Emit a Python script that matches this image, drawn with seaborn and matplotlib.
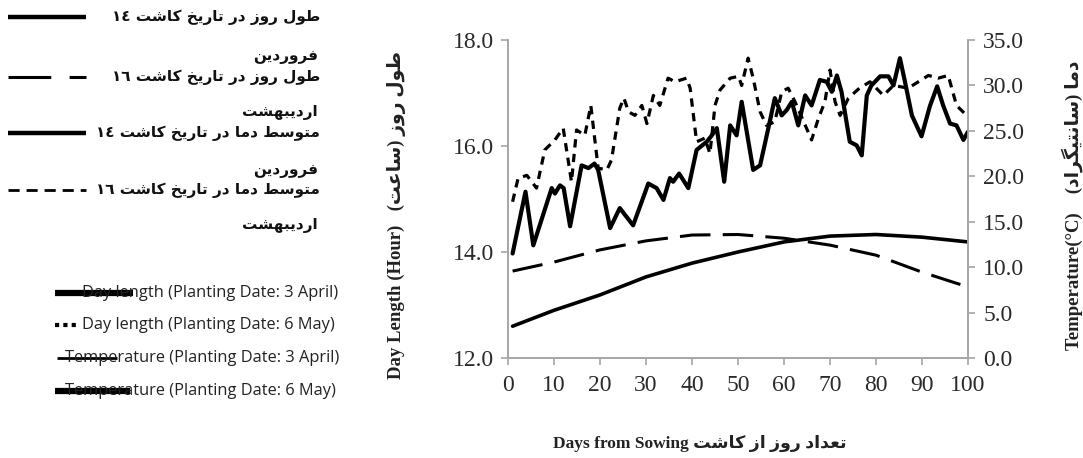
import matplotlib
matplotlib.use("Agg")
import matplotlib.pyplot as plt
from matplotlib.lines import Line2D
import seaborn as sns
import pandas as pd
import re

# day length, read every 10 days
dl_days = [1, 10, 20, 30, 40, 50, 60, 70, 80, 90, 100]
dl_april = [12.6, 12.9, 13.19, 13.53, 13.79, 14.0, 14.19, 14.3, 14.33, 14.28, 14.19]
dl_may = [13.64, 13.81, 14.04, 14.21, 14.32, 14.33, 14.26, 14.13, 13.94, 13.62, 13.34]

# mean temperature, planting date 3 April (peaks and troughs)
t_april_days = [1, 3.8, 5.5, 9.5, 10.2, 11.3, 12.1, 13.5, 16.0, 17.5, 18.8, 19.6, 22.2, 24.3,
                27.2, 30.5, 32.3, 33.8, 35.2, 35.9, 37.2, 39.2, 41.0, 43.2, 44.3, 45.4, 47.0,
                48.3, 49.7, 50.8, 53.3, 54.8, 56.6, 58.0, 59.5, 60.6, 61.7, 63.1, 64.6, 66.0,
                67.8, 69.3, 70.4, 71.5, 72.5, 74.3, 75.8, 76.9, 78.0, 79.0, 80.9, 82.7, 83.8,
                85.2, 86.3, 87.8, 89.9, 91.7, 93.3, 94.6, 96.1, 97.5, 99.0, 100]
t_april = [11.5, 18.3, 12.4, 18.7, 18.1, 19.0, 18.7, 14.5, 21.2, 20.9, 21.4, 20.7, 14.3, 16.5,
           14.6, 19.2, 18.7, 17.4, 19.8, 19.4, 20.3, 18.7, 22.9, 23.8, 24.5, 25.3, 19.4,
           25.6, 24.5, 28.2, 20.7, 21.2, 25.3, 28.6, 26.7, 27.3, 28.2, 25.6, 28.9, 27.8,
           30.6, 30.4, 29.3, 31.1, 29.3, 23.8, 23.4, 22.3, 28.9, 30.0, 31.0, 31.0, 30.0,
           33.0, 30.4, 26.7, 24.4, 27.7, 29.9, 27.8, 25.8, 25.6, 24.0, 24.9]

# mean temperature, planting date 6 May
t_may_days = [1, 2.2, 4.1, 6.2, 8.0, 10.2, 12.0, 13.8, 14.9, 16.7, 18.0, 19.6, 21.5, 22.5,
              24.3, 25.2, 26.2, 27.6, 29.1, 30.2, 31.6, 33.0, 34.8, 36.3, 38.8, 39.6, 41.0,
              42.8, 43.9, 45.0, 46.1, 48.3, 50.1, 50.8, 52.2, 53.3, 54.8, 56.2, 58.0, 59.5,
              60.9, 62.4, 66.0, 67.5, 68.9, 70.0, 71.1, 72.2, 74.0, 76.4, 78.7, 81.6, 83.8,
              87.0, 89.2, 91.4, 93.5, 95.7, 97.5, 99.3, 100]
t_may = [17.2, 19.8, 20.1, 18.7, 22.9, 24.0, 25.3, 19.4, 25.1, 24.5, 27.8, 20.9, 20.7, 21.8,
         27.5, 28.6, 27.1, 26.7, 27.8, 25.8, 28.9, 27.8, 30.8, 30.4, 30.8, 29.7, 23.8,
         24.2, 22.5, 27.8, 29.5, 30.8, 31.0, 30.0, 33.0, 30.8, 27.1, 25.6, 26.0, 29.3,
         29.7, 28.2, 24.0, 26.4, 28.2, 31.7, 28.2, 26.7, 28.6, 29.7, 30.4, 28.9, 30.0,
         29.7, 30.4, 31.1, 30.8, 31.1, 27.8, 26.9, 26.5]

fa_legend = [
    ("طول روز در تاریخ کاشت ١٤", "فروردین"),
    ("طول روز در تاریخ کاشت ١٦", "اردیبهشت"),
    ("متوسط دما در تاریخ کاشت ١٤", "فروردین"),
    ("متوسط دما در تاریخ کاشت ١٦", "اردیبهشت"),
]
en_legend = [
    "Day length (Planting Date: 3 April)",
    "Day length (Planting Date: 6 May)",
    "Temperature (Planting Date: 3 April)",
    "Temperature (Planting Date: 6 May)",
]

# small persian shaper (presentation forms + visual order)
FORMS = {
    'ا': ('\uFE8D', '\uFE8E', None, None),
    'ب': ('\uFE8F', '\uFE90', '\uFE91', '\uFE92'),
    'ت': ('\uFE95', '\uFE96', '\uFE97', '\uFE98'),
    'خ': ('\uFEA5', '\uFEA6', '\uFEA7', '\uFEA8'),
    'د': ('\uFEA9', '\uFEAA', None, None),
    'ر': ('\uFEAD', '\uFEAE', None, None),
    'ز': ('\uFEAF', '\uFEB0', None, None),
    'س': ('\uFEB1', '\uFEB2', '\uFEB3', '\uFEB4'),
    'ش': ('\uFEB5', '\uFEB6', '\uFEB7', '\uFEB8'),
    'ط': ('\uFEC1', '\uFEC2', '\uFEC3', '\uFEC4'),
    'ع': ('\uFEC9', '\uFECA', '\uFECB', '\uFECC'),
    'ف': ('\uFED1', '\uFED2', '\uFED3', '\uFED4'),
    'ل': ('\uFEDD', '\uFEDE', '\uFEDF', '\uFEE0'),
    'م': ('\uFEE1', '\uFEE2', '\uFEE3', '\uFEE4'),
    'ن': ('\uFEE5', '\uFEE6', '\uFEE7', '\uFEE8'),
    'ه': ('\uFEE9', '\uFEEA', '\uFEEB', '\uFEEC'),
    'و': ('\uFEED', '\uFEEE', None, None),
    'ک': ('\uFB8E', '\uFB8F', '\uFB90', '\uFB91'),
    'گ': ('\uFB92', '\uFB93', '\uFB94', '\uFB95'),
    'ی': ('\uFBFC', '\uFBFD', '\uFBFE', '\uFBFF'),
}


def fa(text):
    out = []
    for i, c in enumerate(text):
        if c not in FORMS:
            out.append(c)
            continue
        prev = text[i - 1] if i > 0 else None
        nxt = text[i + 1] if i + 1 < len(text) else None
        j_prev = prev in FORMS and FORMS[prev][2] is not None
        j_next = nxt in FORMS and FORMS[c][2] is not None
        iso, fin, ini, med = FORMS[c]
        if j_prev and j_next:
            out.append(med)
        elif j_prev:
            out.append(fin)
        elif j_next:
            out.append(ini)
        else:
            out.append(iso)
    vis = ''.join(out)[::-1]
    vis = vis.translate(str.maketrans({'(': ')', ')': '('}))
    vis = re.sub(r'[\u0660-\u0669]+', lambda m: m.group(0)[::-1], vis)
    return vis


sns.set_style("white")
plt.rcParams['font.family'] = ['Liberation Serif', 'DejaVu Sans']
GRAY = '#a6a6a6'
W, H = 1083, 458

fig = plt.figure(figsize=(W / 100, H / 100), dpi=100)
ax = fig.add_axes([508 / W, 1 - 358 / H, 460 / W, 318 / H])
ax2 = ax.twinx()

dl = pd.DataFrame({'day': dl_days, 'april': dl_april, 'may': dl_may})
ta = pd.DataFrame({'day': t_april_days, 'temp': t_april})
tm = pd.DataFrame({'day': t_may_days, 'temp': t_may})

sns.lineplot(data=dl, x='day', y='april', ax=ax, color='black', lw=2.6)
sns.lineplot(data=dl, x='day', y='may', ax=ax, color='black', lw=2.2)
ax.lines[-1].set_dashes([10, 4])
sns.lineplot(data=ta, x='day', y='temp', ax=ax2, color='black', lw=3.0)
sns.lineplot(data=tm, x='day', y='temp', ax=ax2, color='black', lw=2.3)
ax2.lines[-1].set_dashes([2.6, 2.0])

ax.set_xlim(0, 100)
ax.set_ylim(12, 18)
ax2.set_ylim(0, 35)
ax.set_xticks(range(0, 101, 10))
ax.set_yticks([12, 14, 16, 18])
ax.set_yticklabels(['12.0', '14.0', '16.0', '18.0'])
ax2.set_yticks(range(0, 36, 5))
ax2.set_yticklabels([f'{v:.1f}' for v in range(0, 36, 5)])

for a in (ax, ax2):
    for s in a.spines.values():
        s.set_color(GRAY)
        s.set_linewidth(1.2)
    a.spines['top'].set_visible(False)
    a.tick_params(colors=GRAY, labelcolor='#2a2a2a', labelsize=17, length=5, width=1.2,
                  direction='out')
ax.tick_params(axis='y', left=True, pad=5)
ax.tick_params(axis='x', bottom=True, pad=7)
ax2.tick_params(axis='y', right=True, pad=6)
ax.set_xlabel('')
ax.set_ylabel('')
ax2.set_ylabel('')

fig.text(397 / W, 1 - 215 / H, 'Day Length (Hour)   ' + fa('طول روز (ساعت)'), rotation=90,
         ha='center', va='center', fontsize=13.5, fontweight='bold', color='#222222')
fig.text(1072 / W, 1 - 205 / H, 'Temperature(°C)    ' + fa('دما (سانتیگراد)'), rotation=90,
         ha='center', va='center', fontsize=13.5, fontweight='bold', color='#222222')
fig.text(700 / W, 1 - 443 / H, 'Days from Sowing ' + fa('تعداد روز از کاشت'),
         ha='center', va='center', fontsize=12.5, fontweight='bold', color='#222222')

# persian legend
rows = [(17, 57), (77, 113), (133, 170), (190, 226)]
styles = [dict(lw=3.2), dict(lw=2.2, dashes=[14, 6]), dict(lw=3.2), dict(lw=2.0, dashes=[4, 2.5])]
for (t1, t2), (y1, y2), st in zip(fa_legend, rows, styles):
    ln = Line2D([8 / W, 86 / W], [1 - y1 / H, 1 - y1 / H], transform=fig.transFigure, color='black',
                lw=st['lw'], solid_capstyle='butt')
    if 'dashes' in st:
        ln.set_dashes(st['dashes'])
    fig.add_artist(ln)
    fig.text(320 / W, 1 - y1 / H, fa(t1), ha='right', va='center', fontsize=11,
             fontweight='bold', color='#111111', family=['DejaVu Sans'])
    fig.text(318 / W, 1 - y2 / H, fa(t2), ha='right', va='center', fontsize=11,
             fontweight='bold', color='#111111', family=['DejaVu Sans'])

# english legend
en_x = [82, 82, 65, 65]
en_y = [293, 325, 358, 391]
for txt, x, y in zip(en_legend, en_x, en_y):
    fig.text(x / W, 1 - y / H, txt, ha='left', va='center', fontsize=11.8, color='#222222',
             family=['Open Sans'])
marks = [(55, 133, 4.5, None), (55, 80, 3.0, [1, 1]), (57, 117, 2.0, None), (55, 130, 4.5, None)]
for (x0, x1, lw, d), y in zip(marks, en_y):
    ln = Line2D([x0 / W, x1 / W], [1 - y / H, 1 - y / H], transform=fig.transFigure,
                color='black', lw=lw, solid_capstyle='butt')
    if d:
        ln.set_dashes(d)
    fig.add_artist(ln)

fig.savefig('out.png', dpi=100)
